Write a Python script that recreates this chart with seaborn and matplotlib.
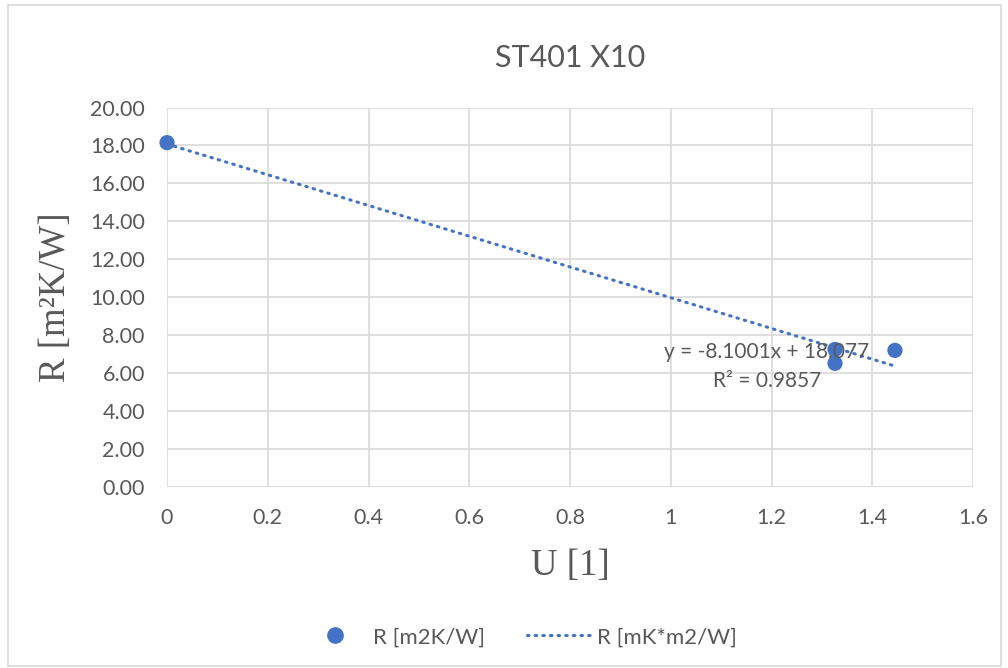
import numpy as np
import pandas as pd
import matplotlib
matplotlib.use("Agg")
import matplotlib.pyplot as plt
import seaborn as sns
from matplotlib.lines import Line2D
from matplotlib.patches import Rectangle

# data
u_values = [0.0, 1.326, 1.326, 1.445]
r_values = [18.15, 7.25, 6.52, 7.20]

# trendline shown in the chart
slope = -8.1001
intercept = 18.077
r_squared = 0.9857

blue = "#4472C4"
grey_text = "#595959"

sns.set_style("white")
plt.rcParams['font.family'] = ['Lato', 'DejaVu Sans']

df = pd.DataFrame({"U": u_values, "R": r_values})
trend_x = np.array([min(u_values), max(u_values)])
trend = pd.DataFrame({"U": trend_x, "R": slope * trend_x + intercept})

fig = plt.figure(figsize=(10.08, 6.68), dpi=100)
ax = fig.add_axes([0.1657, 0.271, 0.7996, 0.568])

sns.lineplot(data=trend, x="U", y="R", ax=ax, color=blue, linewidth=2.2,
             linestyle=(0, (0.5, 2.0)), dash_capstyle="round", zorder=2)
sns.scatterplot(data=df, x="U", y="R", ax=ax, color=blue, s=120,
                edgecolor="none", zorder=3, clip_on=False)

ax.set_xlim(0, 1.6)
ax.set_ylim(0, 20)
ax.set_xticks(np.arange(0, 1.61, 0.2))
ax.set_xticklabels(["0", "0.2", "0.4", "0.6", "0.8", "1", "1.2", "1.4", "1.6"])
ax.set_yticks(np.arange(0, 20.1, 2))
ax.set_yticklabels([f"{v:.2f}" for v in np.arange(0, 20.1, 2)])
ax.tick_params(axis="both", length=0, labelsize=15.5, labelcolor=grey_text)
ax.tick_params(axis="y", pad=16)
ax.tick_params(axis="x", pad=15)
ax.grid(True, color="#D9D9D9", linewidth=1.2)
ax.set_axisbelow(True)
for s in ax.spines.values():
    s.set_visible(False)

ax.set_xlabel("U [1]", family="Liberation Serif", fontsize=26.5, color=grey_text, labelpad=15)
ax.set_ylabel("R [m²K/W]", family="Liberation Serif", fontsize=26.5, color=grey_text, labelpad=12)
ax.set_title("ST401 X10", fontsize=22, color=grey_text, pad=29)

ax.text(1.191, 7.12, f"y = {slope}x + {intercept}", fontsize=15, color=grey_text,
        ha="center", va="center")
ax.text(1.191, 5.59, f"R² = {r_squared}", fontsize=15, color=grey_text,
        ha="center", va="center")

handles = [
    Line2D([], [], marker="o", linestyle="none", color=blue, markersize=11),
    Line2D([], [], color=blue, linewidth=2.2, linestyle=(0, (0.5, 2.0)),
           dash_capstyle="round"),
]
fig.legend(handles, ["R [m2K/W]", "R [mK*m2/W]"], loc="center",
           bbox_to_anchor=(0.516, 0.046), ncol=2, frameon=False, fontsize=16,
           labelcolor=grey_text, handlelength=2.9, handletextpad=0.25,
           columnspacing=1.9)

fig.patches.append(Rectangle((0.008, 0.003), 0.985, 0.99, transform=fig.transFigure,
                             fill=False, edgecolor="#D9D9D9", linewidth=1.2))

fig.savefig("out.png", dpi=100)
